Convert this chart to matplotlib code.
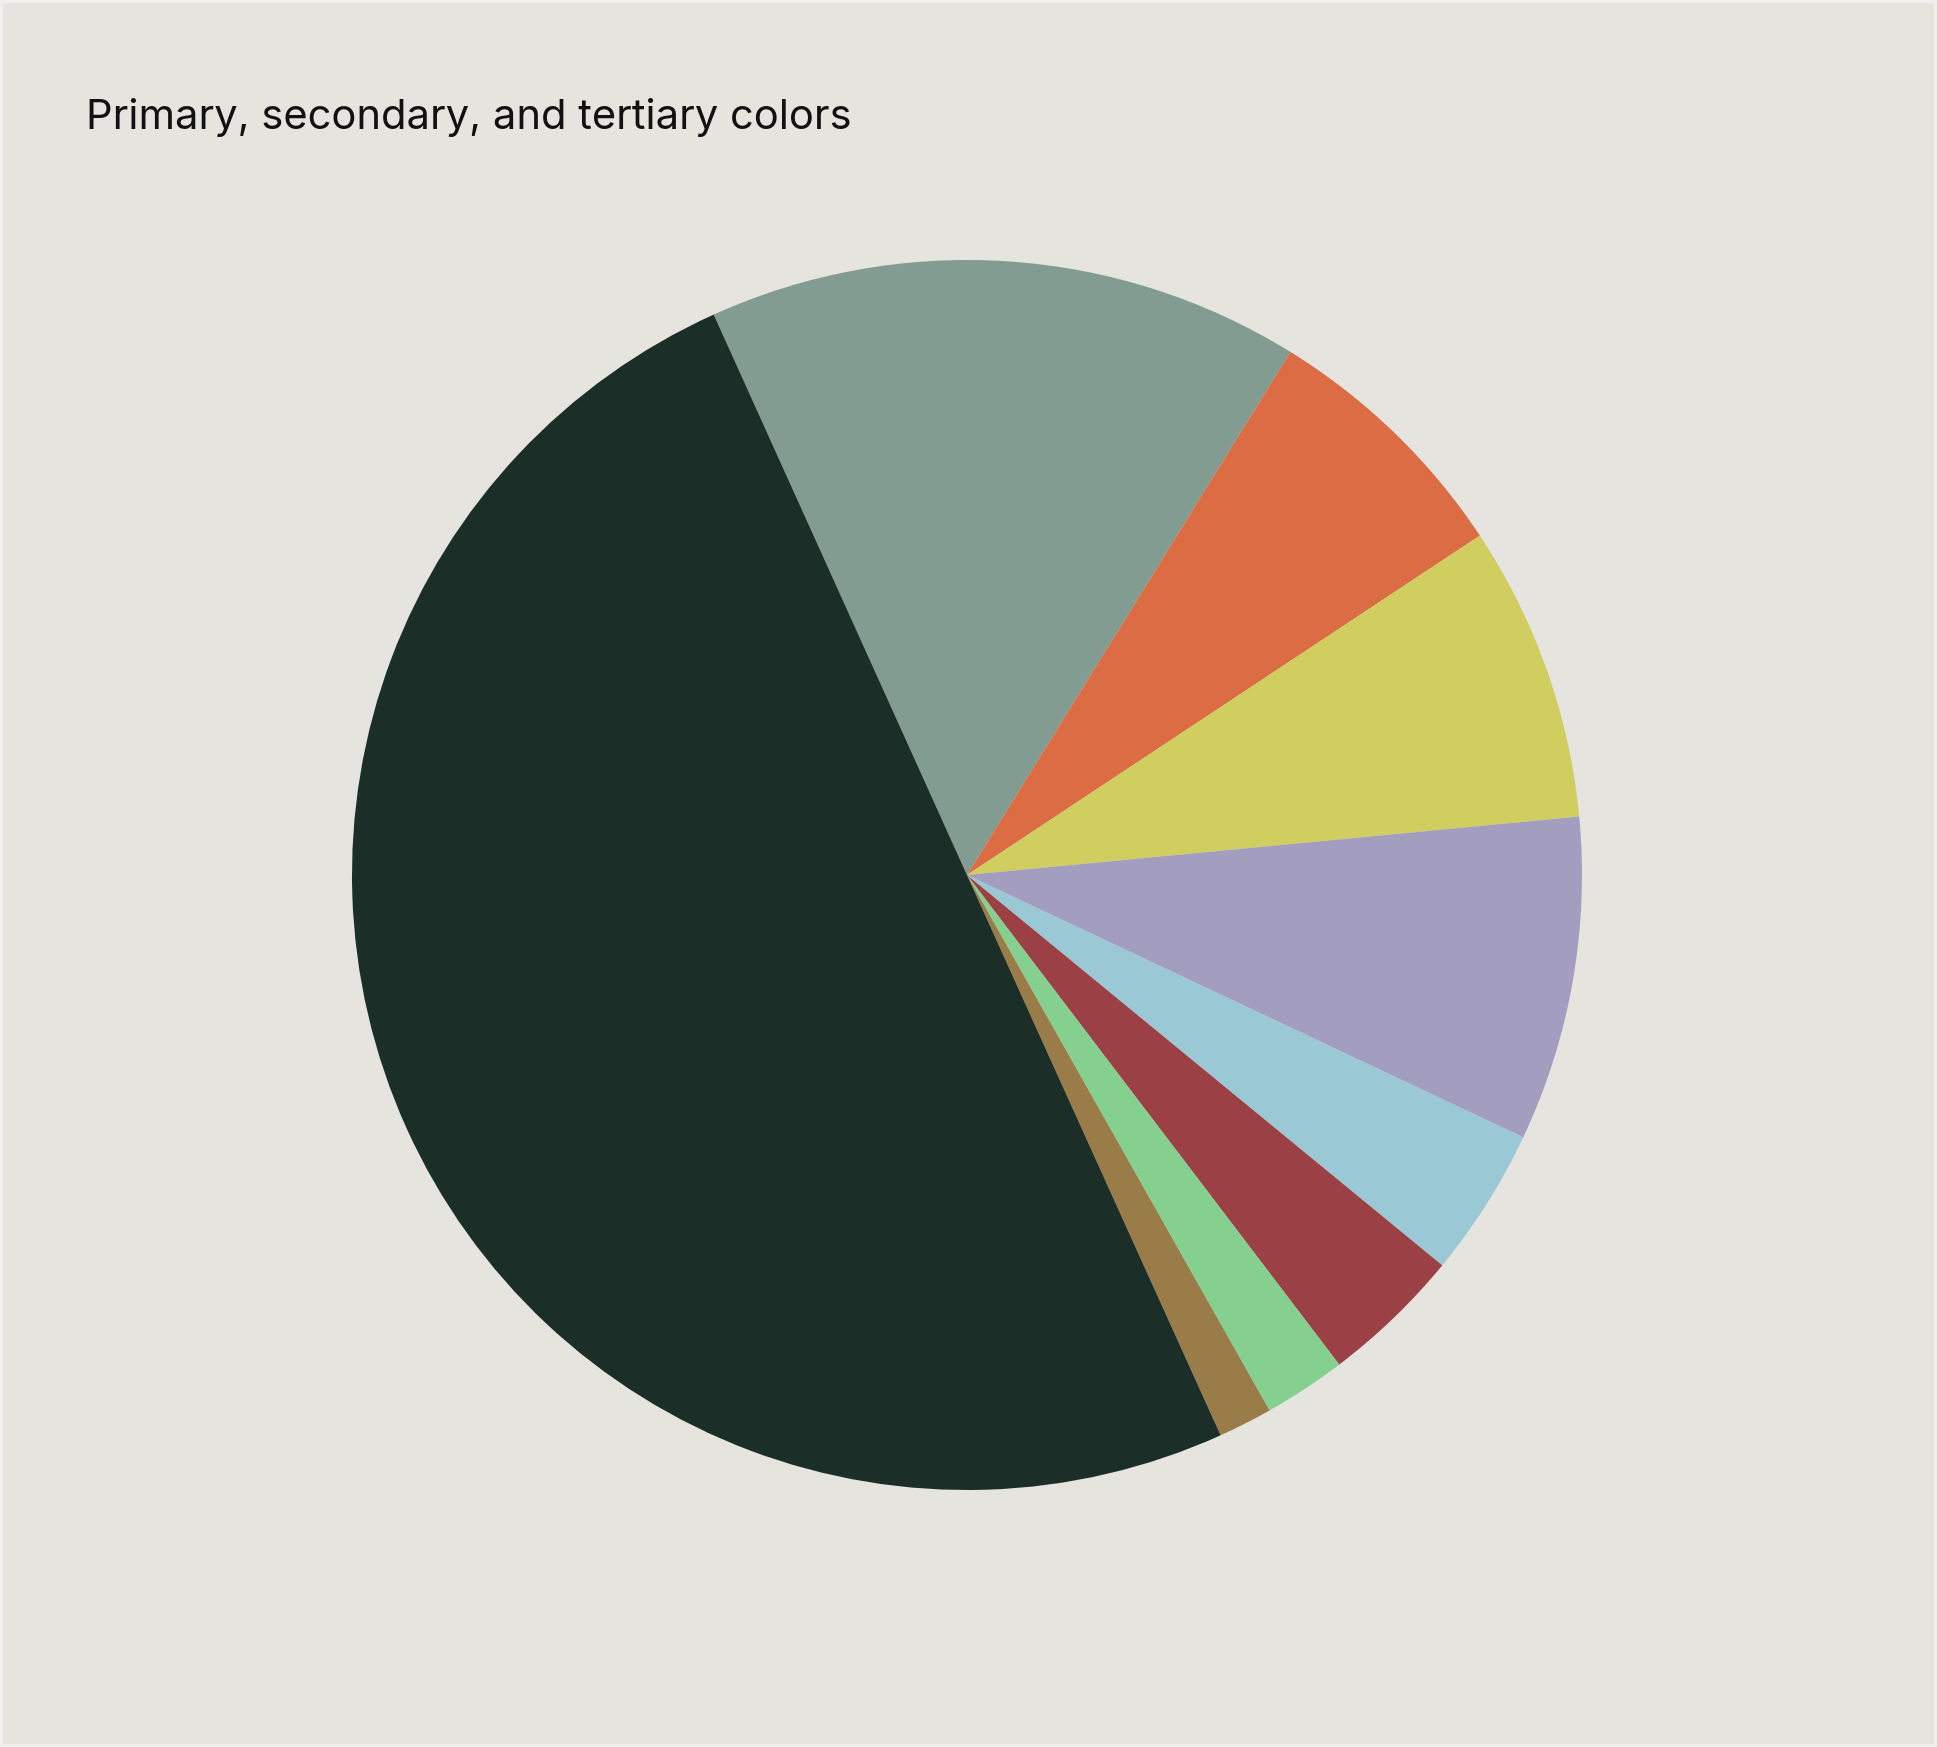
import matplotlib
matplotlib.use("Agg")
import matplotlib.pyplot as plt

# slice shares (percent), clockwise starting from the sage slice at the top
labels = ["Sage", "Orange", "Yellow", "Purple", "Light blue", "Red", "Green", "Brown", "Dark green"]
values = [15.57, 6.88, 7.79, 8.53, 3.93, 3.71, 2.16, 1.42, 50.01]
colors = ["#829c91", "#db6c44", "#cfce5f", "#a39dbf", "#9ac9d5",
          "#9b4044", "#85d08f", "#9a7c48", "#1b2e28"]

bg = "#e5e4df"
W, H = 1937, 1747

fig = plt.figure(figsize=(W / 100, H / 100), dpi=100, facecolor=bg)
fig.patch.set_edgecolor("#f0f0ee")
fig.patch.set_linewidth(3)

# pie centre and radius in pixels
cx, cy, r = 967, 875, 615
ax = fig.add_axes([(cx - r) / W, (H - cy - r) / H, 2 * r / W, 2 * r / H])
ax.set_facecolor(bg)

ax.pie(values, colors=colors, startangle=114.32, counterclock=False,
       wedgeprops=dict(linewidth=0))
ax.set_xlim(-1, 1)
ax.set_ylim(-1, 1)
ax.set_aspect("equal")
ax.axis("off")

fig.text(86 / W, 1 - 129 / H, "Primary, secondary, and tertiary colors",
         fontsize=30, family=["Inter", "DejaVu Sans"], color="#111111",
         ha="left", va="baseline")

fig.savefig("out.png", dpi=100, facecolor=bg, edgecolor=fig.patch.get_edgecolor())
